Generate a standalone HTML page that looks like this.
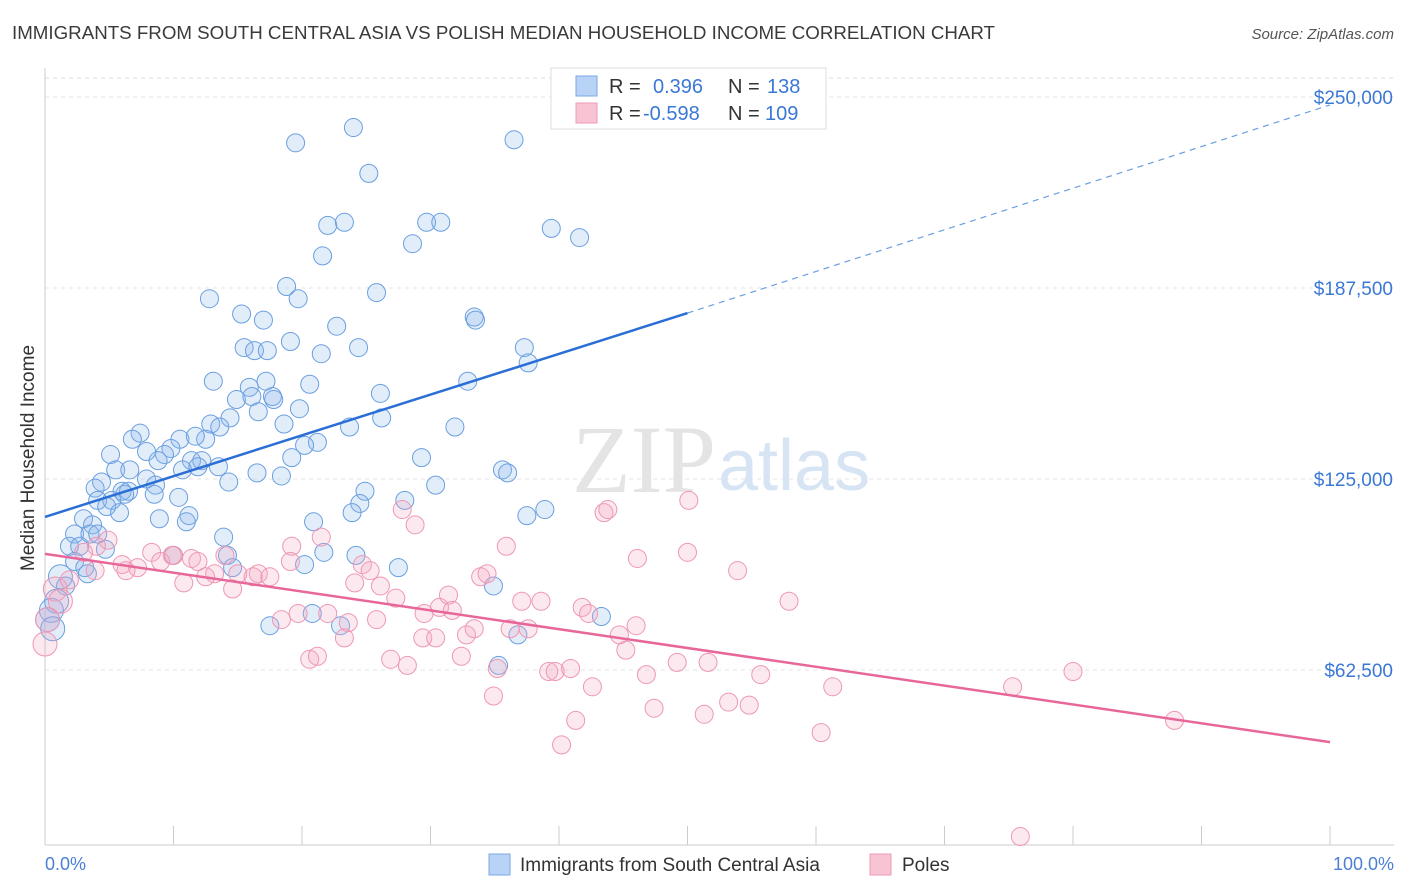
<!DOCTYPE html>
<html><head><meta charset="utf-8"><style>
body{margin:0;background:#fff;font-family:"Liberation Sans",sans-serif;}
svg{display:block}
</style></head><body>
<svg id="chart" width="1406" height="892" xmlns="http://www.w3.org/2000/svg">
<text x="12" y="39" font-size="18" fill="#3a3a3a" textLength="983" lengthAdjust="spacingAndGlyphs">IMMIGRANTS FROM SOUTH CENTRAL ASIA VS POLISH MEDIAN HOUSEHOLD INCOME CORRELATION CHART</text>
<text x="1394" y="39" font-size="15" fill="#555" font-style="italic" text-anchor="end">Source: ZipAtlas.com</text>
<g id="grid"></g>
<text x="716" y="492" font-size="96" font-family="Liberation Serif,serif" fill="#e4e4e4" text-anchor="end">ZIP</text>
<text x="718" y="490" font-size="72" fill="#d6e4f4">atlas</text>
<g id="pts"></g>
<g id="lines"></g>
<text x="34" y="458" font-size="19" fill="#333" text-anchor="middle" transform="rotate(-90 34 458)">Median Household Income</text>
<text x="45" y="870" font-size="18" fill="#4a7fd4">0.0%</text>
<text x="1394" y="870" font-size="18" fill="#4a7fd4" text-anchor="end">100.0%</text>
<g>
<rect x="489" y="854" width="21" height="21" fill="#b8d3f5" stroke="#7aaae6"/>
<text x="520" y="871" font-size="19" fill="#333">Immigrants from South Central Asia</text>
<rect x="870" y="854" width="21" height="21" fill="#f8c4d4" stroke="#ee9bb6"/>
<text x="902" y="871" font-size="19" fill="#333">Poles</text>
</g>
<g>
<rect x="551" y="68" width="275" height="61" fill="#fff" stroke="#ddd"/>
<rect x="576" y="76" width="21" height="20" fill="#b8d3f5" stroke="#7aaae6"/>
<rect x="576" y="103" width="21" height="20" fill="#f8c4d4" stroke="#ee9bb6"/>
<text y="93" font-size="20"><tspan x="609" fill="#333">R =</tspan><tspan x="653" fill="#3a78d6">0.396</tspan><tspan x="728" fill="#333">N =</tspan><tspan x="767" fill="#3a78d6">138</tspan></text>
<text y="120" font-size="20"><tspan x="609" fill="#333">R =</tspan><tspan x="643" fill="#3a78d6">-0.598</tspan><tspan x="728" fill="#333">N =</tspan><tspan x="765" fill="#3a78d6">109</tspan></text>
</g>
</svg>
<script>
const yTicks=[62.5,125,187.5,250];
const yTickLabels=["$62,500","$125,000","$187,500","$250,000"];
const blueX=[19.5,24.0,25.2,36.5,22.0,23.3,29.7,30.8,39.4,41.6,28.6,21.6,18.8,19.7,25.8,12.8,15.3,17.0,22.7,33.4,33.5,19.1,15.5,16.3,17.3,21.5,24.4,37.3,37.6,13.1,15.9,17.2,20.6,26.1,32.9,14.9,16.1,17.7,17.8,19.8,14.4,16.6,18.6,26.2,12.9,13.6,23.7,31.9,7.4,6.8,10.5,12.5,11.7,21.2,20.2,7.9,9.8,9.3,5.1,8.8,11.4,12.2,19.2,29.3,5.5,6.6,10.7,11.9,13.5,16.5,18.4,35.6,36.0,4.4,7.9,14.3,30.4,3.9,6.0,6.5,8.6,6.2,8.5,10.4,4.1,5.2,4.8,5.8,24.9,24.5,28.0,23.9,38.9,37.5,8.9,11.2,11.0,3.0,3.7,20.9,2.3,3.5,4.1,13.9,1.9,2.7,4.7,10.0,14.2,21.7,24.2,2.3,3.1,14.6,20.2,27.5,1.2,3.3,1.6,34.9,0.9,0.5,0.2,0.6,17.5,20.8,23.0,43.3,35.3,36.8];
const blueY=[235,240,225,236,208,209,209,209,207,204,202,198,188,184,186,184,179,177,175,178,177,170,168,167,167,166,168,168,163,157,155,157,156,153,157,151,152,152,151,148,145,147,143,145,143,142,142,142,140,138,138,138,139,137,136,134,135,133,133,131,131,131,132,132,128,128,128,129,129,127,126,128,127,124,125,124,123,122,121,121,123,120,120,119,118,118,116,114,121,117,118,114,115,113,112,113,111,112,110,111,107,107,107,106,103,103,102,100,100,101,100,98,96,96,97,96,93,94,90,90,85,82,79,76,77,81,77,80,64,74];
const pinkX=[50.1,43.5,43.8,27.8,28.8,50.0,35.9,46.1,53.9,21.5,19.2,19.1,4.9,4.0,3.0,8.3,9.9,11.4,6.0,7.2,9.0,10.0,11.9,14.0,15.0,16.6,17.5,13.2,12.5,10.8,14.6,16.2,6.3,24.7,25.3,24.1,26.1,31.4,33.9,34.4,27.3,18.4,19.7,22.0,25.8,29.5,30.7,31.7,37.1,38.6,41.8,42.3,57.9,23.6,23.3,29.4,30.4,32.8,33.4,36.2,37.6,44.7,46.0,45.2,32.4,20.6,21.2,26.9,28.2,35.2,39.2,39.7,40.9,46.8,49.2,51.6,55.7,80.0,75.3,61.3,42.6,34.9,53.2,54.8,47.4,51.3,41.3,60.4,87.9,40.2,75.9,0.8,1.2,0.2,0.0,1.9,3.9];
const pinkY=[118,114,115,115,110,101,103,99,95,106,103,98,105,103,101,101,100,99,97,96,98,100,98,100,94,94,93,94,93,91,89,93,95,97,95,91,90,87,93,94,86,79,81,81,79,81,83,82,85,85,83,81,85,78,73,73,73,74,76,76,76,74,77,69,67,66,67,66,64,63,62,62,63,61,65,65,61,62,57,57,57,54,52,51,50,48,46,42,46,38,8,89,85,79,71,92,95];
const blueTrend=[[0,112.6],[50,179.3],[100,247.4]];
const pinkTrend=[[0,100.5],[100,38.9]];
const X0=45,X1=1330,Y0=861,PX=191/62.5;
const xs=v=>X0+(X1-X0)*v/100, ys=v=>Y0-v*PX;
const NS="http://www.w3.org/2000/svg";
const grid=document.getElementById('grid'),pts=document.getElementById('pts'),lines=document.getElementById('lines');
function mk(tag,a,p){const e=document.createElementNS(NS,tag);for(const k in a)e.setAttribute(k,a[k]);p.appendChild(e);return e;}
let l=mk('line',{x1:X0,x2:1394,y1:78,y2:78,stroke:'#ddd','stroke-dasharray':'4,4'},grid);


yTicks.forEach((t,i)=>{
 const g=mk('line',{x1:X0,x2:1394,y1:ys(t),y2:ys(t),stroke:'#e6e6e6','stroke-dasharray':'4,4'},grid);
 
 
 const tx=mk('text',{x:1393,y:ys(t)+7,'font-size':19,fill:'#3a78d6','text-anchor':'end'},grid);
 tx.textContent=yTickLabels[i];
 
 
});
let ax=mk('line',{x1:X0,x2:1394,y1:845,y2:845,stroke:'#ccc'},grid);


let ay=mk('line',{x1:X0,x2:X0,y1:68,y2:845,stroke:'#ccc'},grid);


for(let i=0;i<=10;i++){const t=mk('line',{x1:xs(i*10),x2:xs(i*10),y1:826,y2:845,stroke:'#ccc'},grid);
 
 }
function dots(X,Y,fill,stroke,name){X.forEach((x,i)=>{
 const r=x<1.3?12:9;
 const c=mk('circle',{cx:xs(x),cy:ys(Y[i]),r:r,fill:fill,'fill-opacity':0.25,stroke:stroke,'stroke-width':1},pts);
 
 
});}
dots(blueX,blueY,'#8ab6ec','#6a9fe0','blue-point');
dots(pinkX,pinkY,'#f3a6c0','#ee97b4','pink-point');
let b1=mk('line',{x1:xs(blueTrend[0][0]),y1:ys(blueTrend[0][1]),x2:xs(blueTrend[1][0]),y2:ys(blueTrend[1][1]),stroke:'#2b6fd6','stroke-width':2.5},lines);


let b2=mk('line',{x1:xs(blueTrend[1][0]),y1:ys(blueTrend[1][1]),x2:xs(blueTrend[2][0]),y2:ys(blueTrend[2][1]),stroke:'#6b9ee0','stroke-width':1.2,'stroke-dasharray':'6,5'},lines);


let p1=mk('line',{x1:xs(pinkTrend[0][0]),y1:ys(pinkTrend[0][1]),x2:xs(pinkTrend[1][0]),y2:ys(pinkTrend[1][1]),stroke:'#e8679a','stroke-width':2.5},lines);


</script>
</body></html>
